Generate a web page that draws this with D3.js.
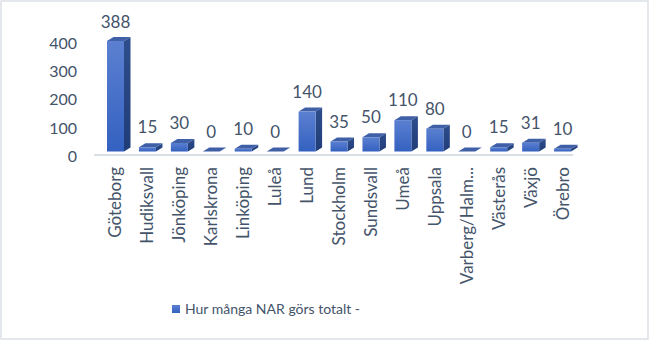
<!DOCTYPE html>
<html>
<head>
<meta charset="utf-8">
<script src="https://cdn.jsdelivr.net/npm/d3@7"></script>
<style>
  body { margin: 0; background: #fff; }
  text { font-family: Lato, "Open Sans", sans-serif; fill: #44546a; }
</style>
</head>
<body>
<div id="chart"></div>
<script>
//data
const cities = ["Göteborg", "Hudiksvall", "Jönköping", "Karlskrona", "Linköping", "Luleå", "Lund",
  "Stockholm", "Sundsvall", "Umeå", "Uppsala", "Varberg/Halm...", "Västerås", "Växjö", "Örebro"];
const narCounts = [388, 15, 30, 0, 10, 0, 140, 35, 50, 110, 80, 0, 15, 31, 10];
const yTicks = [0, 100, 200, 300, 400];
const seriesName = "Hur många NAR görs totalt -";

const width = 649;
const height = 341;

const svg = d3.select('#chart')
  .append('svg')
    .attr('width', width)
    .attr('height', height);

// gradients for the 3d bar faces
const defs = svg.append('defs');
const front = defs.append('linearGradient').attr('id', 'front').attr('x1', 0).attr('y1', 0).attr('x2', 0).attr('y2', 1);
front.append('stop').attr('offset', '0%').attr('stop-color', '#5b80d1');
front.append('stop').attr('offset', '100%').attr('stop-color', '#3461c0');
const side = defs.append('linearGradient').attr('id', 'side').attr('x1', 0).attr('y1', 0).attr('x2', 0).attr('y2', 1);
side.append('stop').attr('offset', '0%').attr('stop-color', '#2e4d8c');
side.append('stop').attr('offset', '100%').attr('stop-color', '#203d78');

// chart area border
svg.append('rect')
  .attr('x', 1)
  .attr('y', 1)
  .attr('width', width - 2)
  .attr('height', height - 3)
  .attr('fill', '#fff')
  .attr('stroke', '#dbe0e6')
  .attr('stroke-width', 1.5);

// scales
const x = d3.scaleBand()
  .domain(cities)
  .range([94, 573]);

// front edge of the bars
const y = d3.scaleLinear()
  .domain([0, 400])
  .range([151.5, 37.5]);

// back wall (axis labels, value labels)
const yWall = d3.scaleLinear()
  .domain([0, 400])
  .range([156, 43]);

const faceOffset = 13;
const faceWidth = 17;
const depthX = 6.5;
const depthY = 4;

// floor line
svg.append('line')
  .attr('x1', x.range()[0])
  .attr('x2', x.range()[1])
  .attr('y1', 155)
  .attr('y2', 155)
  .attr('stroke', '#d9dde4')
  .attr('stroke-width', 2);

// y axis labels
svg.selectAll('.ytick')
  .data(yTicks)
  .join('text')
    .attr('class', 'ytick')
    .attr('x', 77)
    .attr('y', d => yWall(d))
    .attr('dy', '0.36em')
    .attr('text-anchor', 'end')
    .attr('font-size', 16)
    .text(d => d);

// bars: side, top, front
const bars = svg.selectAll('.bar')
  .data(cities.map((c, i) => ({ city: c, value: narCounts[i] })))
  .join('g')
    .attr('class', 'bar');

bars.append('polygon')
  .attr('fill', 'url(#side)')
  .attr('points', d => {
    const x1 = x(d.city) + faceOffset + faceWidth;
    const yt = y(d.value);
    const yb = y(0);
    return [[x1, yt], [x1 + depthX, yt - depthY], [x1 + depthX, yb - depthY], [x1, yb]].join(' ');
  });

bars.append('polygon')
  .attr('fill', '#3f5fa6')
  .attr('points', d => {
    const x0 = x(d.city) + faceOffset;
    const yt = y(d.value);
    return [[x0, yt], [x0 + faceWidth, yt], [x0 + faceWidth + depthX, yt - depthY], [x0 + depthX, yt - depthY]].join(' ');
  });

bars.append('rect')
  .attr('x', d => x(d.city) + faceOffset)
  .attr('y', d => y(d.value))
  .attr('width', faceWidth)
  .attr('height', d => y(0) - y(d.value))
  .attr('fill', 'url(#front)');

// value labels
svg.selectAll('.label-value')
  .data(narCounts)
  .join('text')
    .attr('class', 'label-value')
    .attr('x', (d, i) => x(cities[i]) + faceOffset + faceWidth / 2)
    .attr('y', d => yWall(d) - 18.5)
    .attr('text-anchor', 'middle')
    .attr('font-size', 17)
    .text(d => d);

// category labels, rotated
svg.selectAll('.xlabel')
  .data(cities)
  .join('text')
    .attr('class', 'xlabel')
    .attr('transform', d => `translate(${x(d) + faceOffset + faceWidth / 2},167) rotate(-90)`)
    .attr('dy', '0.35em')
    .attr('text-anchor', 'end')
    .attr('font-size', 17)
    .text(d => d);

// legend
const legend = svg.append('g').attr('transform', 'translate(172,305)');
legend.append('rect')
  .attr('width', 8)
  .attr('height', 8)
  .attr('fill', 'url(#front)');
legend.append('text')
  .attr('x', 13)
  .attr('y', 4)
  .attr('dy', '0.36em')
  .attr('font-size', 14)
  .text(seriesName);
</script>
</body>
</html>
